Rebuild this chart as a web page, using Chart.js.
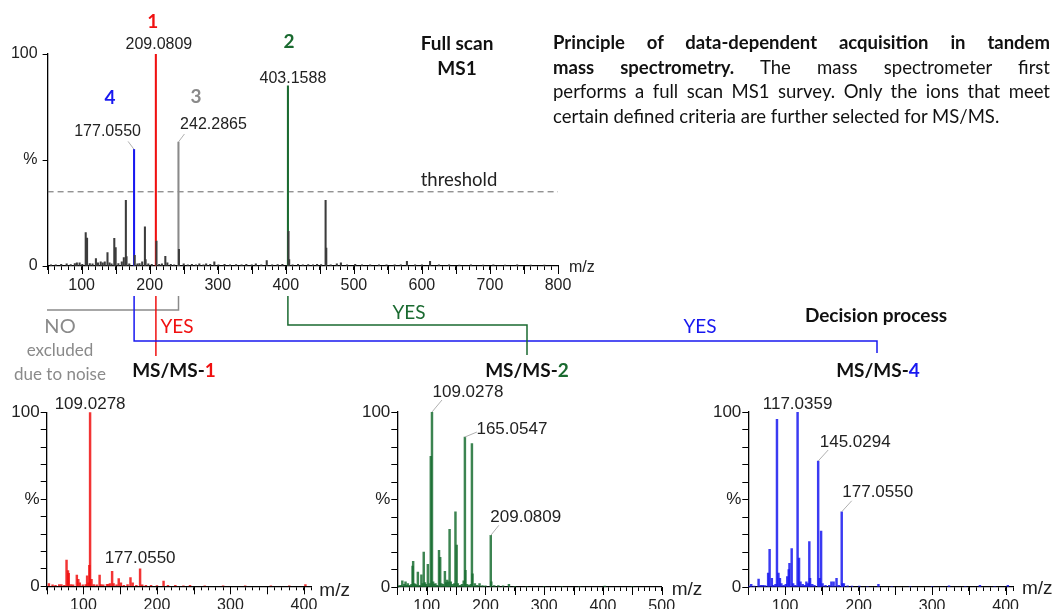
<!DOCTYPE html>
<html>
<head>
<meta charset="utf-8">
<script src="https://cdn.jsdelivr.net/npm/chart.js@4.4.0/dist/chart.umd.min.js"></script>
<style>
html, body { margin: 0; padding: 0; background: #fff; }
#page { position: relative; width: 1055px; height: 609px; overflow: hidden; font-family: Lato, "Open Sans", sans-serif; color: #111; }
.box { position: absolute; }
.t { position: absolute; white-space: nowrap; transform: translate(-50%, -50%); line-height: 1; }
.b { font-weight: bold; }
.para { position: absolute; left: 553px; width: 497px; font-size: 18.5px; line-height: 24.5px; white-space: nowrap; }
.para div { text-align: justify; text-align-last: justify; }
.para div.last { text-align-last: left; }
svg { position: absolute; left: 0; top: 0; }
</style>
</head>
<body>
<div id="page">
  <div class="box" style="left:0;top:0;width:620px;height:300px"><canvas id="ms1"></canvas></div>
  <div class="box" style="left:0;top:380px;width:360px;height:229px"><canvas id="msms1"></canvas></div>
  <div class="box" style="left:350px;top:380px;width:360px;height:229px"><canvas id="msms2"></canvas></div>
  <div class="box" style="left:700px;top:380px;width:355px;height:229px"><canvas id="msms4"></canvas></div>
  <svg id="tree" width="1055" height="609"></svg>

  <div class="t b" style="left:457px;top:42px;font-size:19px">Full scan</div>
  <div class="t b" style="left:457px;top:67px;font-size:19px">MS1</div>
  <div class="t" style="left:459px;top:179px;font-size:18.5px;color:#222">threshold</div>

  <div class="para" style="top:30px">
    <div class="b">Principle of data-dependent acquisition in tandem</div>
    <div><b>mass spectrometry.</b> The mass spectrometer first</div>
    <div>performs a full scan MS1 survey. Only the ions that meet</div>
    <div class="last">certain defined criteria are further selected for MS/MS.</div>
  </div>

  <div class="t" style="left:60px;top:325px;font-size:20px;color:#8a8a8a">NO</div>
  <div class="t" style="left:60px;top:349px;font-size:17px;color:#8a8a8a">excluded</div>
  <div class="t" style="left:60px;top:373px;font-size:17px;color:#8a8a8a">due to noise</div>
  <div class="t" style="left:177px;top:325px;font-size:19px;color:#f01010">YES</div>
  <div class="t" style="left:409px;top:311px;font-size:19px;color:#1a6a30">YES</div>
  <div class="t" style="left:700px;top:325px;font-size:19px;color:#1818f0">YES</div>
  <div class="t b" style="left:876px;top:314px;font-size:19px">Decision process</div>

  <div class="t b" style="left:174px;top:369px;font-size:19px">MS/MS-<span style="color:#f01010">1</span></div>
  <div class="t b" style="left:527px;top:369px;font-size:19px">MS/MS-<span style="color:#1a6a30">2</span></div>
  <div class="t b" style="left:878px;top:369px;font-size:19px">MS/MS-<span style="color:#1818f0">4</span></div>
</div>

<script>
// ---------- data ----------
// full scan MS1 (m/z, relative intensity %)
var ms1Mz = [55, 62, 70, 78, 84, 90, 93, 97, 101, 106, 108, 112, 116, 121, 124, 128, 131, 134, 138, 141,
  144, 148, 150, 154, 159, 162, 165, 166, 170, 177.0550, 178, 182, 185, 189, 193, 194, 198, 203, 209.0809, 210,
  214, 218, 223, 226, 231, 236, 242.2865, 243, 250, 256, 262, 268, 273, 279, 283, 289, 295, 301, 310, 318,
  327, 335, 342, 350, 356, 364, 372, 380, 388, 395, 403.1588, 404, 405, 410, 418, 425, 433, 440, 446, 452,
  458.5, 459.5, 466, 475, 481, 490, 502, 512, 524, 537, 548, 560, 569, 578, 590, 600, 612, 625, 640, 655,
  672, 690, 705, 722, 740, 760, 780];
var ms1Int = [0.6, 0.5, 0.8, 1.0, 0.7, 1.2, 1.5, 1.5, 0.8, 15.8, 13.2, 1.2, 1.0, 3.5, 1.5, 2.0, 1.5, 2.0, 6.3, 1.5,
  1.0, 13.0, 8.7, 1.2, 2.0, 4.0, 31.0, 4.5, 1.0, 55.0, 5.0, 1.0, 1.2, 2.0, 18.5, 3.0, 1.0, 0.8, 100, 11.8,
  0.8, 1.0, 4.6, 1.5, 0.8, 0.6, 58.5, 7.9, 1.0, 0.6, 0.8, 0.6, 1.0, 0.6, 1.0, 0.8, 2.0, 0.6, 0.8, 0.6,
  0.7, 0.6, 0.8, 0.6, 1.0, 0.6, 2.5, 0.6, 0.7, 0.8, 85.0, 16.4, 3.0, 0.6, 0.8, 0.6, 0.7, 0.6, 0.8, 0.7,
  31.0, 8.5, 0.6, 1.0, 1.5, 0.6, 0.8, 0.6, 0.6, 0.6, 0.5, 0.6, 0.5, 2.2, 0.5, 0.6, 2.2, 0.5, 0.5, 0.4,
  0.5, 0.4, 0.5, 0.4, 0.5, 0.4, 0.4];
var thresholdPct = 35;

// precursor ions picked in MS1, numbered 1..4
var precursorMz = [209.0809, 403.1588, 242.2865, 177.0550];
var precursorTag = ['1', '2', '3', '4'];

// MS/MS-1 (precursor 209.0809)
var msms1Mz = [53, 58, 62, 67, 70, 74, 77, 79, 80, 83, 86, 91, 93, 95, 99, 103, 105, 107, 108, 109.0278,
  111, 114, 118, 122, 124, 127, 132, 134, 136, 139, 141, 145, 148, 151, 155, 160, 164, 167, 172, 177.0550,
  180, 185, 192, 200, 209, 215, 225, 236, 245, 265, 290, 320, 355, 380, 402];
var msms1Int = [1.5, 0.8, 0.6, 1.0, 1.0, 0.6, 15.0, 9.0, 7.5, 1.0, 0.8, 6.5, 4.0, 2.0, 0.8, 1.0, 6.0, 2.0, 12.0, 100,
  4.0, 1.0, 0.8, 6.5, 1.0, 0.8, 1.2, 1.2, 1.5, 8.6, 1.5, 0.8, 4.5, 2.0, 0.6, 1.0, 5.0, 2.0, 0.6, 10.0,
  0.8, 0.5, 0.5, 0.4, 3.0, 0.5, 0.5, 0.3, 0.5, 0.3, 0.3, 0.3, 0.3, 0.3, 1.0];
var msms1Labels = [109.0278, 177.0550];

// MS/MS-2 (precursor 403.1588)
var msms2Mz = [53, 56, 58.5, 62, 64, 66, 68, 71, 74, 76, 77, 79, 81, 83, 85, 88, 91, 93, 95, 97,
  99, 102, 105, 107, 109.0278, 111, 113, 115, 118, 121, 123, 125, 128, 131, 133, 135, 137, 139, 141, 144,
  147, 149, 151, 153, 157, 160, 163, 165.0547, 166, 169, 172, 175, 177, 178, 182, 186, 190, 195, 200, 209.0809,
  210, 215, 222, 230, 240, 250, 270, 300, 330, 360, 403, 450];
var msms2Int = [0.8, 1.0, 3.5, 1.5, 3.0, 1.0, 2.0, 1.0, 1.5, 12.0, 14.7, 2.0, 1.5, 1.0, 8.5, 1.0, 7.0, 2.0, 20.0, 2.5,
  1.5, 13.0, 2.0, 74.7, 100, 3.0, 1.5, 2.0, 1.0, 21.0, 17.0, 2.0, 1.5, 9.0, 2.5, 4.0, 3.0, 33.0, 3.0, 1.5,
  2.0, 43.0, 24.0, 2.0, 1.0, 1.5, 3.5, 85.7, 9.5, 1.5, 1.0, 1.5, 82.0, 7.5, 2.0, 1.0, 2.0, 0.8, 0.6, 29.5,
  3.0, 0.8, 0.8, 0.6, 1.5, 0.4, 0.3, 0.3, 0.3, 0.3, 0.5, 0.3];
var msms2Labels = [109.0278, 165.0547, 209.0809];

// MS/MS-4 (precursor 177.0550)
var msms4Mz = [51, 54, 58, 64, 67, 70, 73, 77, 79, 82, 84, 87, 89, 91, 93, 95, 98, 101, 103, 105,
  106, 109, 111, 114, 117.0359, 119, 121, 124, 127, 129, 131, 133, 134, 137, 140, 145.0294, 147, 149, 151, 155,
  160, 163, 166, 170, 173, 177.0550, 178, 180, 185, 191, 201, 212, 227, 245, 270, 300, 323, 345, 365, 385, 403];
var msms4Int = [0.5, 1.5, 0.5, 4.5, 1.0, 1.0, 0.8, 8.0, 21.5, 5.0, 1.0, 1.5, 95.8, 8.0, 5.0, 2.0, 1.0, 1.5, 6.0, 10.0,
  13.5, 22.0, 2.0, 1.0, 100, 16.5, 3.0, 1.5, 1.0, 3.0, 2.0, 26.0, 5.0, 1.5, 1.0, 72.0, 5.0, 32.0, 2.0, 1.0,
  1.0, 3.0, 3.0, 5.0, 1.0, 43.0, 2.0, 2.0, 0.6, 0.5, 0.5, 0.3, 1.5, 0.3, 0.3, 0.3, 0.6, 0.3, 1.0, 0.3, 1.0];
var msms4Labels = [117.0359, 145.0294, 177.0550];

// ---------- styling ----------
var RED = '#f01010', GREEN = '#1a6a30', BLUE = '#1818f0', GREY = '#8a8a8a';
var tagColors = [RED, GREEN, GREY, BLUE];
var numFont = '"Liberation Sans", Arial, sans-serif';

// label offsets from the peak top: [dx, dy, leaderDx, leaderDy] (same order as the label lists)
var ms1LabelPos = [[3, -9], [5, -7], [35, -17, 6, -8], [-26.5, -18, -6, -8]];
var ms1TagPos = [[-3, -32], [1, -44], [17.5, -45], [-24, -52]];
var msms1LabelPos = [[0, -8], [0, -11]];
var msms2LabelPos = [[36, -20, 10, -12], [47, -8, 12, -5], [35, -18, 8, -10]];
var msms4LabelPos = [[0, -8], [37, -19, 10, -11], [36, -19, 10, -11]];

function overlay(cfg) {
  return {
    id: 'overlay',
    afterDatasetsDraw: function (chart) {
      var ctx = chart.ctx, a = chart.chartArea, x = chart.scales.x, y = chart.scales.y;
      var pts = chart.data.datasets[0].data;
      function topOf(m) {
        var p = pts.find(function (q) { return q.x === m; });
        return y.getPixelForValue(p.y);
      }
      ctx.save();
      // longer ticks every 50
      ctx.strokeStyle = '#000';
      ctx.lineWidth = 1;
      for (var v = 50; v <= x.max; v += 50) {
        var px = Math.round(x.getPixelForValue(v)) + 0.5;
        ctx.beginPath(); ctx.moveTo(px, a.bottom); ctx.lineTo(px, a.bottom + 8); ctx.stroke();
      }
      // peak labels
      ctx.textAlign = 'center';
      ctx.textBaseline = 'middle';
      ctx.font = cfg.labelSize + 'px ' + numFont;
      cfg.labels.forEach(function (m, i) {
        var o = cfg.pos[i], px = x.getPixelForValue(m), py = topOf(m);
        if (o.length > 2) {
          ctx.strokeStyle = '#b0b0b0';
          ctx.beginPath(); ctx.moveTo(px, py); ctx.lineTo(px + o[2], py + o[3]); ctx.stroke();
        }
        ctx.fillStyle = '#222';
        ctx.fillText(m.toFixed(4), px + o[0], py + o[1]);
      });
      // precursor numbers
      if (cfg.tags) {
        ctx.font = 'bold 19px Lato, "Open Sans", sans-serif';
        cfg.tags.forEach(function (m, i) {
          var o = cfg.tagPos[i];
          ctx.fillStyle = tagColors[i];
          ctx.fillText(precursorTag[i], x.getPixelForValue(m) + o[0], topOf(m) + o[1]);
        });
      }
      // m/z unit
      ctx.textAlign = 'left';
      ctx.fillStyle = '#222';
      ctx.font = cfg.unitSize + 'px ' + numFont;
      ctx.fillText('m/z', a.right + cfg.unitDx, a.bottom + cfg.unitDy);
      ctx.restore();
    }
  };
}

function spectrum(id, mz, inten, colors, xMax, lay, cfg, extra) {
  var datasets = [{
    type: 'bar',
    data: mz.map(function (m, i) { return { x: m, y: inten[i] }; }),
    backgroundColor: colors,
    borderWidth: 0,
    barThickness: lay.bar
  }].concat(extra || []);
  return new Chart(document.getElementById(id), {
    type: 'bar',
    data: { datasets: datasets },
    options: {
      animation: false,
      responsive: true,
      maintainAspectRatio: false,
      events: [],
      layout: { padding: { left: 0, top: lay.top, right: lay.right, bottom: 0 } },
      plugins: { legend: { display: false }, tooltip: { enabled: false } },
      scales: {
        x: {
          type: 'linear', min: 50, max: xMax, offset: false,
          grid: { drawOnChartArea: false, offset: false, tickLength: 4, color: '#000', lineWidth: 1 },
          border: { color: '#000', width: 1.3 },
          ticks: {
            stepSize: 10, autoSkip: false, maxRotation: 0, minRotation: 0, maxTicksLimit: 1000,
            padding: 6, color: '#222', font: { family: numFont, size: 16 },
            callback: function (v) { return v % 100 === 0 ? String(v) : ''; }
          },
          afterFit: function (s) { s.height = lay.xh; }
        },
        y: {
          min: 0, max: 100,
          grid: { drawOnChartArea: false, tickLength: lay.yTick, color: '#000', lineWidth: 1 },
          border: { color: '#000', width: 1.3 },
          ticks: {
            stepSize: lay.yStep, autoSkip: false, padding: lay.yPad, color: '#222',
            font: { family: numFont, size: lay.yFont },
            callback: function (v) { return v === 100 ? '100' : v === 50 ? '%' : v === 0 ? '0' : ''; }
          },
          afterFit: function (s) { s.width = lay.yw; }
        }
      }
    },
    plugins: [overlay(cfg)]
  });
}

// MS1 bar colours: precursors highlighted
var ms1Colors = ms1Mz.map(function (m) {
  var k = precursorMz.indexOf(m);
  return k < 0 ? '#3c3c3c' : tagColors[k];
});

var chartMs1 = spectrum('ms1', ms1Mz, ms1Int, ms1Colors, 800,
  { top: 54, right: 62, xh: 34, yw: 47.6, yStep: 50, yTick: 5, yPad: 5, yFont: 16, bar: 1.4 },
  { labels: precursorMz, pos: ms1LabelPos, tags: precursorMz, tagPos: ms1TagPos, labelSize: 16, unitSize: 16, unitDx: 11, unitDy: 2 },
  [{
    type: 'line',
    data: [{ x: 50, y: thresholdPct }, { x: 800, y: thresholdPct }],
    borderColor: '#666', borderWidth: 1, borderDash: [6, 4], pointRadius: 0
  }]);

spectrum('msms1', msms1Mz, msms1Int, 'rgba(240,16,16,0.85)', 410,
  { top: 32.3, right: 48.7, xh: 22.7, yw: 46.7, yStep: 10, yTick: 6, yPad: 1, yFont: 17, bar: 1.8 },
  { labels: msms1Labels, pos: msms1LabelPos, labelSize: 17, unitSize: 19, unitDx: 8, unitDy: 4 });

spectrum('msms2', msms2Mz, msms2Int, 'rgba(26,110,50,0.85)', 500,
  { top: 32, right: 48.3, xh: 22, yw: 47.3, yStep: 10, yTick: 6, yPad: 1, yFont: 17, bar: 1.8 },
  { labels: msms2Labels, pos: msms2LabelPos, labelSize: 17, unitSize: 19, unitDx: 10, unitDy: 3 });

spectrum('msms4', msms4Mz, msms4Int, 'rgba(24,24,240,0.85)', 410,
  { top: 32, right: 42, xh: 22, yw: 48.3, yStep: 10, yTick: 6, yPad: 1, yFont: 17, bar: 1.8 },
  { labels: msms4Labels, pos: msms4LabelPos, labelSize: 17, unitSize: 19, unitDx: 9, unitDy: 2 });

// decision tree lines, starting at the precursor positions on the MS1 axis
var sx = chartMs1.scales.x;
function px(m) { return sx.getPixelForValue(m).toFixed(1); }
var tree = [
  [GREY, [[47, 310], [px(242.2865), 310], [px(242.2865), 296]]],
  [RED, [[px(209.0809), 296], [px(209.0809), 356]]],
  [BLUE, [[px(177.0550), 296], [px(177.0550), 341], [877, 341], [877, 353]]],
  [GREEN, [[px(403.1588), 296], [px(403.1588), 325], [527, 325], [527, 355]]]
];
document.getElementById('tree').innerHTML = tree.map(function (t) {
  return '<polyline fill="none" stroke-width="1.5" stroke="' + t[0] + '" points="' +
    t[1].map(function (p) { return p.join(','); }).join(' ') + '"/>';
}).join('');
</script>
</body>
</html>
